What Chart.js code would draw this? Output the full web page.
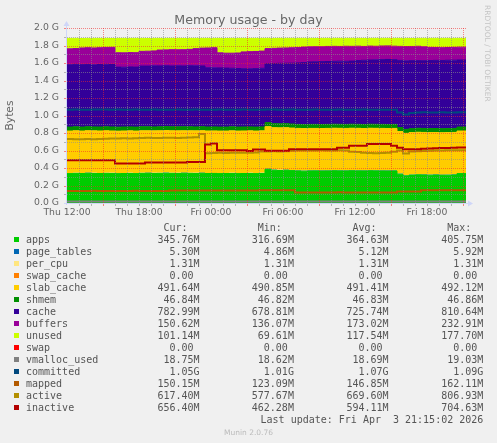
<!DOCTYPE html>
<html>
<head>
<meta charset="utf-8">
<script src="https://cdn.jsdelivr.net/npm/chart.js"></script>
<style>
html,body{margin:0;padding:0;background:#F0F0F0;}
#wrap{width:497px;height:443px;position:relative;}
</style>
</head>
<body>
<div id="wrap"><canvas id="c"></canvas></div>
<script>
// ---- time axis (hours since Thu 12:00) ----
const hours = [0,0.5,1,1.5,2,2.5,3,3.5,4,4.5,
  5,5.5,6,6.5,7,7.5,8,8.5,9,9.5,
  10,10.5,11,11.5,12,12.5,13,13.5,14,14.5,
  15,15.5,16,16.5,17,17.5,18,18.5,19,19.5,
  20,20.5,21,21.5,22,22.5,23,23.5,24,24.5,
  25,25.5,26,26.5,27,27.5,28,28.5,29,29.5,
  30,30.5,31,31.5,32,32.5,33,33.25];
const xTickHours = [0,6,12,18,24,30];
const xTickLabels = ['Thu 12:00','Thu 18:00','Fri 00:00','Fri 06:00','Fri 12:00','Fri 18:00'];
const yTickLabels = ['0.0 G','0.2 G','0.4 G','0.6 G','0.8 G','1.0 G','1.2 G','1.4 G','1.6 G','1.8 G','2.0 G'];

// ---- series values, in G (1024-based) ----
const apps = [0.338,0.336,0.339,0.337,0.340,0.338,0.337,0.339,0.338,0.335,
  0.337,0.338,0.336,0.339,0.340,0.338,0.339,0.341,0.339,0.338,
  0.340,0.339,0.338,0.340,0.337,0.338,0.336,0.337,0.338,0.336,
  0.337,0.338,0.336,0.338,0.386,0.375,0.372,0.374,0.370,0.366,
  0.364,0.366,0.367,0.365,0.366,0.368,0.367,0.366,0.368,0.367,
  0.366,0.368,0.367,0.366,0.365,0.366,0.330,0.310,0.319,0.322,
  0.320,0.318,0.319,0.317,0.318,0.320,0.336,0.336];
const page_tables = [0.0050,0.0050,0.0051,0.0050,0.0049,0.0050,0.0050,0.0051,0.0050,0.0050,
  0.0049,0.0050,0.0050,0.0051,0.0050,0.0050,0.0049,0.0050,0.0050,0.0051,
  0.0050,0.0050,0.0050,0.0051,0.0050,0.0049,0.0050,0.0050,0.0051,0.0050,
  0.0050,0.0050,0.0049,0.0050,0.0054,0.0056,0.0055,0.0054,0.0053,0.0052,
  0.0052,0.0051,0.0052,0.0051,0.0052,0.0053,0.0052,0.0051,0.0052,0.0051,
  0.0052,0.0051,0.0052,0.0053,0.0052,0.0051,0.0050,0.0049,0.0050,0.0051,
  0.0052,0.0052,0.0053,0.0052,0.0053,0.0052,0.0053,0.0053];
const per_cpu = [0.0013,0.0013,0.0013,0.0013,0.0013,0.0013,0.0013,0.0013,0.0013,0.0013,
  0.0013,0.0013,0.0013,0.0013,0.0013,0.0013,0.0013,0.0013,0.0013,0.0013,
  0.0013,0.0013,0.0013,0.0013,0.0013,0.0013,0.0013,0.0013,0.0013,0.0013,
  0.0013,0.0013,0.0013,0.0013,0.0013,0.0013,0.0013,0.0013,0.0013,0.0013,
  0.0013,0.0013,0.0013,0.0013,0.0013,0.0013,0.0013,0.0013,0.0013,0.0013,
  0.0013,0.0013,0.0013,0.0013,0.0013,0.0013,0.0013,0.0013,0.0013,0.0013,
  0.0013,0.0013,0.0013,0.0013,0.0013,0.0013,0.0013,0.0013];
const swap_cache = [0,0,0,0,0,0,0,0,0,0, 0,0,0,0,0,0,0,0,0,0,
  0,0,0,0,0,0,0,0,0,0, 0,0,0,0,0,0,0,0,0,0,
  0,0,0,0,0,0,0,0,0,0, 0,0,0,0,0,0,0,0,0,0,
  0,0,0,0,0,0,0,0];
const slab_cache = [0.480,0.480,0.480,0.479,0.480,0.480,0.480,0.480,0.479,0.480,
  0.480,0.480,0.480,0.480,0.479,0.480,0.480,0.480,0.480,0.480,
  0.479,0.480,0.480,0.480,0.480,0.480,0.480,0.479,0.480,0.480,
  0.480,0.480,0.480,0.480,0.480,0.479,0.480,0.480,0.480,0.480,
  0.480,0.480,0.479,0.480,0.480,0.480,0.480,0.480,0.480,0.480,
  0.479,0.480,0.480,0.480,0.480,0.480,0.480,0.480,0.479,0.480,
  0.480,0.480,0.480,0.480,0.480,0.480,0.480,0.480];
const shmem = [0.0457,0.0457,0.0457,0.0457,0.0457,0.0457,0.0457,0.0457,0.0457,0.0457,
  0.0457,0.0457,0.0457,0.0457,0.0457,0.0457,0.0457,0.0457,0.0457,0.0457,
  0.0457,0.0457,0.0457,0.0457,0.0457,0.0457,0.0457,0.0457,0.0457,0.0457,
  0.0457,0.0457,0.0457,0.0457,0.0457,0.0457,0.0457,0.0457,0.0457,0.0457,
  0.0457,0.0457,0.0457,0.0457,0.0457,0.0457,0.0457,0.0457,0.0457,0.0457,
  0.0457,0.0457,0.0457,0.0457,0.0457,0.0457,0.0457,0.0457,0.0457,0.0457,
  0.0457,0.0457,0.0457,0.0457,0.0457,0.0457,0.0457,0.0457];
const cache = [0.713,0.712,0.714,0.713,0.712,0.709,0.714,0.715,0.714,0.686,
  0.683,0.685,0.685,0.694,0.694,0.698,0.696,0.696,0.695,0.698,
  0.695,0.698,0.698,0.694,0.677,0.675,0.676,0.674,0.670,0.669,
  0.666,0.664,0.668,0.670,0.674,0.687,0.692,0.691,0.696,0.703,
  0.709,0.714,0.716,0.719,0.719,0.719,0.722,0.722,0.722,0.729,
  0.734,0.734,0.737,0.740,0.743,0.740,0.768,0.783,0.777,0.773,
  0.774,0.778,0.779,0.780,0.781,0.780,0.766,0.766];
const buffers = [0.180,0.182,0.180,0.191,0.191,0.193,0.192,0.192,0.196,0.164,
  0.164,0.164,0.165,0.168,0.170,0.170,0.181,0.181,0.186,0.183,
  0.186,0.187,0.196,0.204,0.226,0.230,0.172,0.170,0.172,0.177,
  0.192,0.196,0.196,0.196,0.172,0.174,0.174,0.175,0.176,0.175,
  0.177,0.173,0.172,0.170,0.172,0.171,0.168,0.171,0.168,0.164,
  0.158,0.159,0.155,0.156,0.155,0.154,0.160,0.163,0.162,0.164,
  0.159,0.150,0.146,0.146,0.146,0.147,0.147,0.147];
const unused = [0.118,0.119,0.116,0.108,0.106,0.109,0.106,0.103,0.101,0.164,
  0.165,0.162,0.163,0.148,0.145,0.143,0.133,0.131,0.129,0.130,
  0.128,0.125,0.117,0.111,0.109,0.106,0.165,0.168,0.169,0.167,
  0.154,0.151,0.149,0.145,0.117,0.113,0.111,0.109,0.107,0.105,
  0.099,0.096,0.094,0.095,0.092,0.091,0.092,0.090,0.091,0.089,
  0.091,0.088,0.090,0.087,0.086,0.089,0.091,0.093,0.091,0.090,
  0.096,0.103,0.105,0.106,0.104,0.102,0.100,0.100];
const swap = [0,0,0,0,0,0,0,0,0,0, 0,0,0,0,0,0,0,0,0,0,
  0,0,0,0,0,0,0,0,0,0, 0,0,0,0,0,0,0,0,0,0,
  0,0,0,0,0,0,0,0,0,0, 0,0,0,0,0,0,0,0,0,0,
  0,0,0,0,0,0,0,0];
const vmalloc_used = [0.0183,0.0183,0.0182,0.0183,0.0183,0.0183,0.0184,0.0183,0.0183,0.0183,
  0.0182,0.0183,0.0183,0.0183,0.0183,0.0184,0.0183,0.0183,0.0182,0.0183,
  0.0183,0.0183,0.0183,0.0184,0.0183,0.0183,0.0183,0.0182,0.0183,0.0183,
  0.0183,0.0184,0.0183,0.0183,0.0183,0.0182,0.0183,0.0183,0.0183,0.0183,
  0.0184,0.0183,0.0183,0.0182,0.0183,0.0183,0.0183,0.0183,0.0184,0.0183,
  0.0183,0.0183,0.0182,0.0183,0.0183,0.0183,0.0184,0.0183,0.0183,0.0183,
  0.0182,0.0183,0.0183,0.0183,0.0183,0.0183,0.0183,0.0183];
const committed = [1.067,1.066,1.068,1.067,1.066,1.069,1.070,1.068,1.067,1.068,
  1.066,1.067,1.068,1.067,1.066,1.068,1.067,1.066,1.067,1.068,
  1.067,1.066,1.068,1.067,1.066,1.067,1.068,1.067,1.066,1.067,
  1.068,1.067,1.066,1.067,1.069,1.068,1.067,1.066,1.068,1.067,
  1.066,1.067,1.068,1.067,1.066,1.067,1.068,1.067,1.066,1.067,
  1.068,1.067,1.066,1.067,1.066,1.065,1.035,1.012,1.030,1.034,
  1.036,1.035,1.034,1.036,1.035,1.034,1.036,1.036];
const mapped = [0.138,0.138,0.137,0.138,0.138,0.139,0.138,0.138,0.137,0.138,
  0.138,0.138,0.139,0.138,0.138,0.137,0.138,0.138,0.143,0.143,
  0.142,0.143,0.143,0.144,0.143,0.143,0.142,0.143,0.143,0.143,
  0.144,0.143,0.143,0.146,0.146,0.147,0.146,0.146,0.146,0.121,
  0.121,0.121,0.120,0.121,0.121,0.121,0.122,0.121,0.121,0.121,
  0.120,0.121,0.121,0.121,0.121,0.121,0.131,0.131,0.132,0.131,
  0.146,0.146,0.146,0.147,0.146,0.146,0.147,0.147];
const active = [0.730,0.731,0.729,0.730,0.732,0.730,0.731,0.733,0.738,0.737,
  0.739,0.738,0.740,0.744,0.745,0.743,0.744,0.746,0.745,0.744,
  0.746,0.748,0.752,0.788,0.568,0.572,0.574,0.572,0.575,0.573,
  0.575,0.574,0.576,0.588,0.590,0.591,0.590,0.592,0.598,0.600,
  0.599,0.601,0.600,0.602,0.601,0.600,0.602,0.601,0.585,0.582,
  0.575,0.572,0.570,0.571,0.575,0.585,0.600,0.565,0.590,0.592,
  0.595,0.598,0.600,0.601,0.602,0.603,0.603,0.603];
const inactive = [0.490,0.490,0.490,0.490,0.490,0.490,0.490,0.490,0.490,0.452,
  0.452,0.452,0.452,0.452,0.463,0.463,0.463,0.463,0.463,0.463,
  0.463,0.470,0.470,0.470,0.670,0.681,0.604,0.604,0.604,0.604,
  0.604,0.593,0.611,0.611,0.596,0.596,0.596,0.596,0.614,0.614,
  0.614,0.614,0.614,0.614,0.614,0.614,0.631,0.631,0.654,0.654,
  0.654,0.673,0.673,0.673,0.673,0.655,0.631,0.615,0.615,0.615,
  0.620,0.622,0.625,0.628,0.630,0.632,0.635,0.635];

// ---- legend table ----
const seriesNames = ['apps','page_tables','per_cpu','swap_cache','slab_cache','shmem','cache','buffers','unused','swap','vmalloc_used','committed','mapped','active','inactive'];
const seriesColors = ['#00CC00','#0066B3','#FFE680','#FF8000','#FFCC00','#008F00','#330099','#990099','#CCFF00','#FF0000','#808080','#00487D','#B35A00','#B38F00','#B30000'];
const curValues = ['345.76M','5.30M','1.31M','0.00','491.64M','46.84M','782.99M','150.62M','101.14M','0.00','18.75M','1.05G','150.15M','617.40M','656.40M'];
const minValues = ['316.69M','4.86M','1.31M','0.00','490.85M','46.82M','678.81M','136.07M','69.61M','0.00','18.62M','1.01G','123.09M','577.67M','462.28M'];
const avgValues = ['364.63M','5.12M','1.31M','0.00','491.41M','46.83M','725.74M','173.02M','117.54M','0.00','18.69M','1.07G','146.85M','669.60M','594.11M'];
const maxValues = ['405.75M','5.92M','1.31M','0.00','492.12M','46.86M','810.64M','232.91M','177.70M','0.00','19.03M','1.09G','162.11M','806.93M','704.63M'];
const titleText = 'Memory usage - by day';
const yAxisTitle = 'Bytes';
const lastUpdate = 'Last update: Fri Apr  3 21:15:02 2026';
const versionText = 'Munin 2.0.76';
const watermark = 'RRDTOOL / TOBI OETIKER';

const stackSeries = [apps, page_tables, per_cpu, swap_cache, slab_cache, shmem, cache, buffers, unused, swap];
const lineSeries = [vmalloc_used, committed, mapped, active, inactive];

const datasets = [];
stackSeries.forEach((d, i) => {
  const c = seriesColors[i];
  const visibleBorder = [0, 4, 5, 6, 7, 8].includes(i);
  datasets.push({
    label: seriesNames[i], data: d, stack: 'mem',
    backgroundColor: c,
    borderColor: visibleBorder ? c : 'rgba(0,0,0,0)',
    borderWidth: visibleBorder ? 1 : 0,
    fill: i === 0 ? 'origin' : '-1',
    stepped: 'after', pointRadius: 0, order: 20
  });
});
lineSeries.forEach((d, k) => {
  const i = stackSeries.length + k;
  datasets.push({
    label: seriesNames[i], data: d, stack: 'line_' + seriesNames[i],
    borderColor: seriesColors[i], backgroundColor: seriesColors[i],
    borderWidth: 2, fill: false, stepped: 'after', pointRadius: 0,
    order: 10 - k
  });
});

const FONT = 'DejaVu Sans';
const MONO = 'DejaVu Sans Mono';
const TEXT = '#666666';
const MINOR = 'rgba(140,140,140,0.6)';
const MAJOR = 'rgba(245,40,40,0.55)';
const AXIS = '#CFD6F8';

const rrdDecor = {
  id: 'rrdDecor',
  afterDatasetsDraw(chart) {
    const {ctx, chartArea: a, scales: {x, y}} = chart;
    ctx.save();
    ctx.lineWidth = 1;
    ctx.setLineDash([1, 1]);
    // vertical grid: every hour, major every 6 hours starting at 3h
    for (let h = Math.floor(x.min) + 1; h <= x.max; h++) {
      const px = Math.round(x.getPixelForValue(h)) + 0.5;
      ctx.strokeStyle = ((h - 3) % 6 === 0) ? MAJOR : MINOR;
      ctx.beginPath(); ctx.moveTo(px, a.top); ctx.lineTo(px, a.bottom); ctx.stroke();
    }
    // horizontal grid: major at ticks, minor halfway
    const tv = y.ticks.map(t => t.value);
    const step = tv[1] - tv[0];
    tv.forEach((v, i) => {
      if (i > 0) {
        const py = Math.round(y.getPixelForValue(v)) + 0.5;
        ctx.strokeStyle = MAJOR;
        ctx.beginPath(); ctx.moveTo(a.left, py); ctx.lineTo(a.right, py); ctx.stroke();
      }
      if (i < tv.length - 1) {
        const py = Math.round(y.getPixelForValue(v + step / 2)) + 0.5;
        ctx.strokeStyle = MINOR;
        ctx.beginPath(); ctx.moveTo(a.left, py); ctx.lineTo(a.right, py); ctx.stroke();
      }
    });
    ctx.setLineDash([]);
    // small tick marks on axes
    tv.forEach((v, i) => {
      [[v, MAJOR], [v + step / 2, MINOR]].forEach(([g, col], k) => {
        if (g > y.max + 1e-9 || (k === 0 && i === 0)) return;
        const py = Math.round(y.getPixelForValue(g)) + 0.5;
        ctx.strokeStyle = col;
        ctx.beginPath(); ctx.moveTo(a.left - 3, py); ctx.lineTo(a.left - 1, py); ctx.stroke();
      });
    });
    for (let h = Math.floor(x.min) + 1; h <= x.max; h++) {
      const px = Math.round(x.getPixelForValue(h)) + 0.5;
      ctx.strokeStyle = ((h - 3) % 6 === 0) ? MAJOR : MINOR;
      ctx.beginPath(); ctx.moveTo(px, a.bottom + 1); ctx.lineTo(px, a.bottom + 3); ctx.stroke();
    }
    // axes with arrows
    ctx.strokeStyle = AXIS; ctx.fillStyle = AXIS;
    const ax = a.left - 0.5, ay = a.bottom + 0.5;
    ctx.beginPath(); ctx.moveTo(ax, a.bottom + 2); ctx.lineTo(ax, a.top - 2); ctx.stroke();
    ctx.beginPath(); ctx.moveTo(ax - 3, a.top - 2); ctx.lineTo(ax + 3, a.top - 2); ctx.lineTo(ax, a.top - 7); ctx.closePath(); ctx.fill();
    ctx.beginPath(); ctx.moveTo(a.left - 3, ay); ctx.lineTo(a.right + 2, ay); ctx.stroke();
    ctx.beginPath(); ctx.moveTo(a.right + 2, ay - 3); ctx.lineTo(a.right + 2, ay + 3); ctx.lineTo(a.right + 7, ay); ctx.closePath(); ctx.fill();
    ctx.restore();
  },
  afterDraw(chart) {
    const ctx = chart.ctx;
    ctx.save();
    // title
    ctx.fillStyle = TEXT;
    ctx.font = '12.6px "' + FONT + '"';
    ctx.textAlign = 'center'; ctx.textBaseline = 'alphabetic';
    ctx.fillText(titleText, 248.5, 24);
    // watermark
    ctx.save();
    ctx.fillStyle = '#C4C4C4';
    ctx.font = '7.5px "' + FONT + '"';
    ctx.translate(487, 5);
    ctx.rotate(Math.PI / 2);
    ctx.textAlign = 'left'; ctx.textBaseline = 'middle';
    ctx.fillText(watermark, 0, 0);
    ctx.restore();
    // legend table
    ctx.font = '10px "' + MONO + '"';
    ctx.fillStyle = '#555555';
    ctx.textBaseline = 'alphabetic';
    const cols = [[curValues, 199.6, 'Cur:'], [minValues, 293.9, 'Min:'], [avgValues, 388.6, 'Avg:'], [maxValues, 483.3, 'Max:']];
    const base0 = 231, rowH = 12;
    ctx.textAlign = 'right';
    cols.forEach(([vals, edge, head]) => {
      ctx.fillText(head + '  ', edge, base0);
    });
    seriesNames.forEach((name, i) => {
      const by = base0 + rowH * (i + 1);
      ctx.fillStyle = seriesColors[i];
      ctx.fillRect(14, by - 6, 5, 5);
      ctx.fillStyle = '#555555';
      ctx.textAlign = 'left';
      ctx.fillText(name, 26, by);
      ctx.textAlign = 'right';
      cols.forEach(([vals, edge]) => {
        const v = vals[i];
        ctx.fillText(/[0-9]$/.test(v) ? v + ' ' : v, edge, by);
      });
    });
    ctx.textAlign = 'right';
    ctx.fillText(lastUpdate, 483.3, base0 + rowH * 16);
    ctx.fillStyle = '#BBBBBB';
    ctx.font = '7.5px "' + FONT + '"';
    ctx.textAlign = 'center';
    ctx.fillText(versionText, 248.5, 435);
    ctx.restore();
  }
};

new Chart(document.getElementById('c'), {
  type: 'line',
  data: { labels: hours, datasets },
  options: {
    responsive: true, maintainAspectRatio: false, animation: false,
    events: [],
    layout: { padding: { left: 0, top: 28, right: 31, bottom: 220 } },
    plugins: { legend: { display: false }, tooltip: { enabled: false }, title: { display: false } },
    scales: {
      x: {
        type: 'linear', min: 0, max: 33.25,
        grid: { display: false, drawTicks: false }, border: { display: false },
        afterBuildTicks: s => { s.ticks = xTickHours.map(v => ({ value: v })); },
        afterFit: s => { s.height = 20; },
        ticks: { autoSkip: false, maxRotation: 0, minRotation: 0, padding: 4, color: TEXT,
          font: { family: FONT, size: 9.3 }, callback: (v, i) => xTickLabels[i] }
      },
      y: {
        stacked: true, min: 0, max: 2,
        grid: { display: false, drawTicks: false }, border: { display: false },
        afterFit: s => { s.width = 67; },
        ticks: { stepSize: 0.2, padding: 8, color: TEXT,
          font: { family: FONT, size: 9.3 }, callback: (v, i) => yTickLabels[i] },
        title: { display: true, text: yAxisTitle, color: TEXT,
          font: { family: FONT, size: 10.7 }, padding: { top: 4, bottom: 0 } }
      }
    }
  },
  plugins: [rrdDecor]
});
</script>
</body>
</html>
